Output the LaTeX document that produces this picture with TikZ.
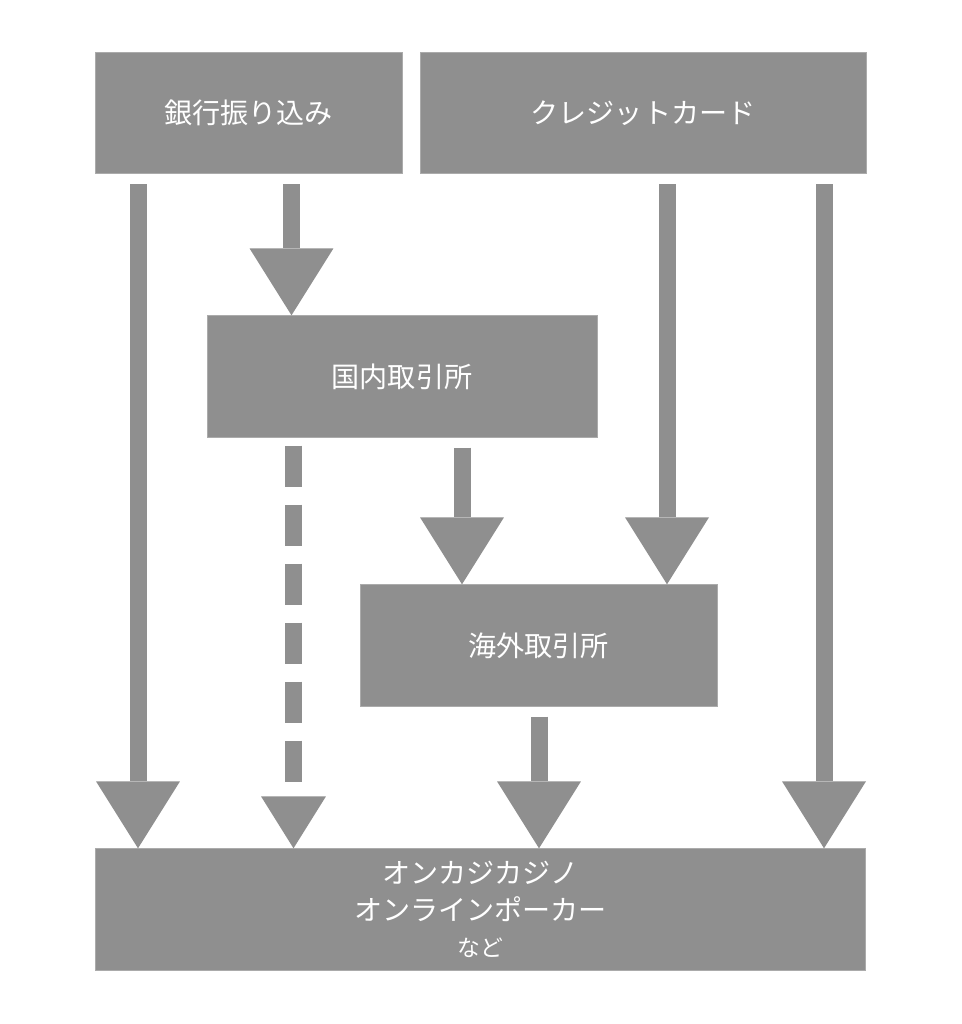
\documentclass[tikz,border=0pt]{standalone}
\usepackage{fontspec}
\setmainfont{Noto Sans CJK JP}
\usetikzlibrary{arrows.meta}
\definecolor{boxgray}{RGB}{143,143,143}

\begin{document}
\begin{tikzpicture}[x=0.02cm, y=-0.02cm,
    box/.style={rectangle, fill=boxgray, draw=boxgray!75!white, line width=0.5pt,
        text=white, font=\fontsize{16}{21}\selectfont, align=center,
        minimum height=2.43cm, inner sep=0pt},
    bigarrow/.style={draw=boxgray, line width=0.34cm,
        -{Triangle[width=1.68cm, length=1.34cm, line width=0pt]}, shorten <=0.2cm},
    dasharrow/.style={draw=boxgray, line width=0.35cm, dash pattern=on 0.82cm off 0.36cm,
        -{Triangle[width=1.3cm, length=1.04cm, line width=0pt]}, shorten <=0.16cm}]
    \useasboundingbox (0,0) rectangle (961,1024);

    % Draw nodes
    \node[box, minimum width=6.14cm] (bank) at (248.5,113) {銀行振り込み};
    \node[box, minimum width=8.92cm] (card) at (643,113) {クレジットカード};
    \node[box, minimum width=7.8cm] (domestic) at (402,376.5) {国内取引所};
    \node[box, minimum width=7.14cm] (overseas) at (538.5,645.5) {海外取引所};
    \node[box, minimum width=15.42cm] (goal) at (480.5,909.5)
        {オンカジカジノ\\オンラインポーカー\\{\fontsize{13}{17}\selectfont など}};

    % Arrow columns
    \coordinate (c1) at (138,0);
    \coordinate (c2) at (291.5,0);
    \coordinate (c3) at (293.5,0);
    \coordinate (c4) at (462,0);
    \coordinate (c5) at (539,0);
    \coordinate (c6) at (667,0);
    \coordinate (c7) at (824,0);

    % Draw connections
    \draw[bigarrow] (bank.south -| c1) -- (goal.north -| c1);
    \draw[bigarrow] (bank.south -| c2) -- (domestic.north -| c2);
    \draw[dasharrow] (domestic.south -| c3) -- (goal.north -| c3);
    \draw[bigarrow] (domestic.south -| c4) -- (overseas.north -| c4);
    \draw[bigarrow] (card.south -| c6) -- (overseas.north -| c6);
    \draw[bigarrow] (overseas.south -| c5) -- (goal.north -| c5);
    \draw[bigarrow] (card.south -| c7) -- (goal.north -| c7);
\end{tikzpicture}
\end{document}
